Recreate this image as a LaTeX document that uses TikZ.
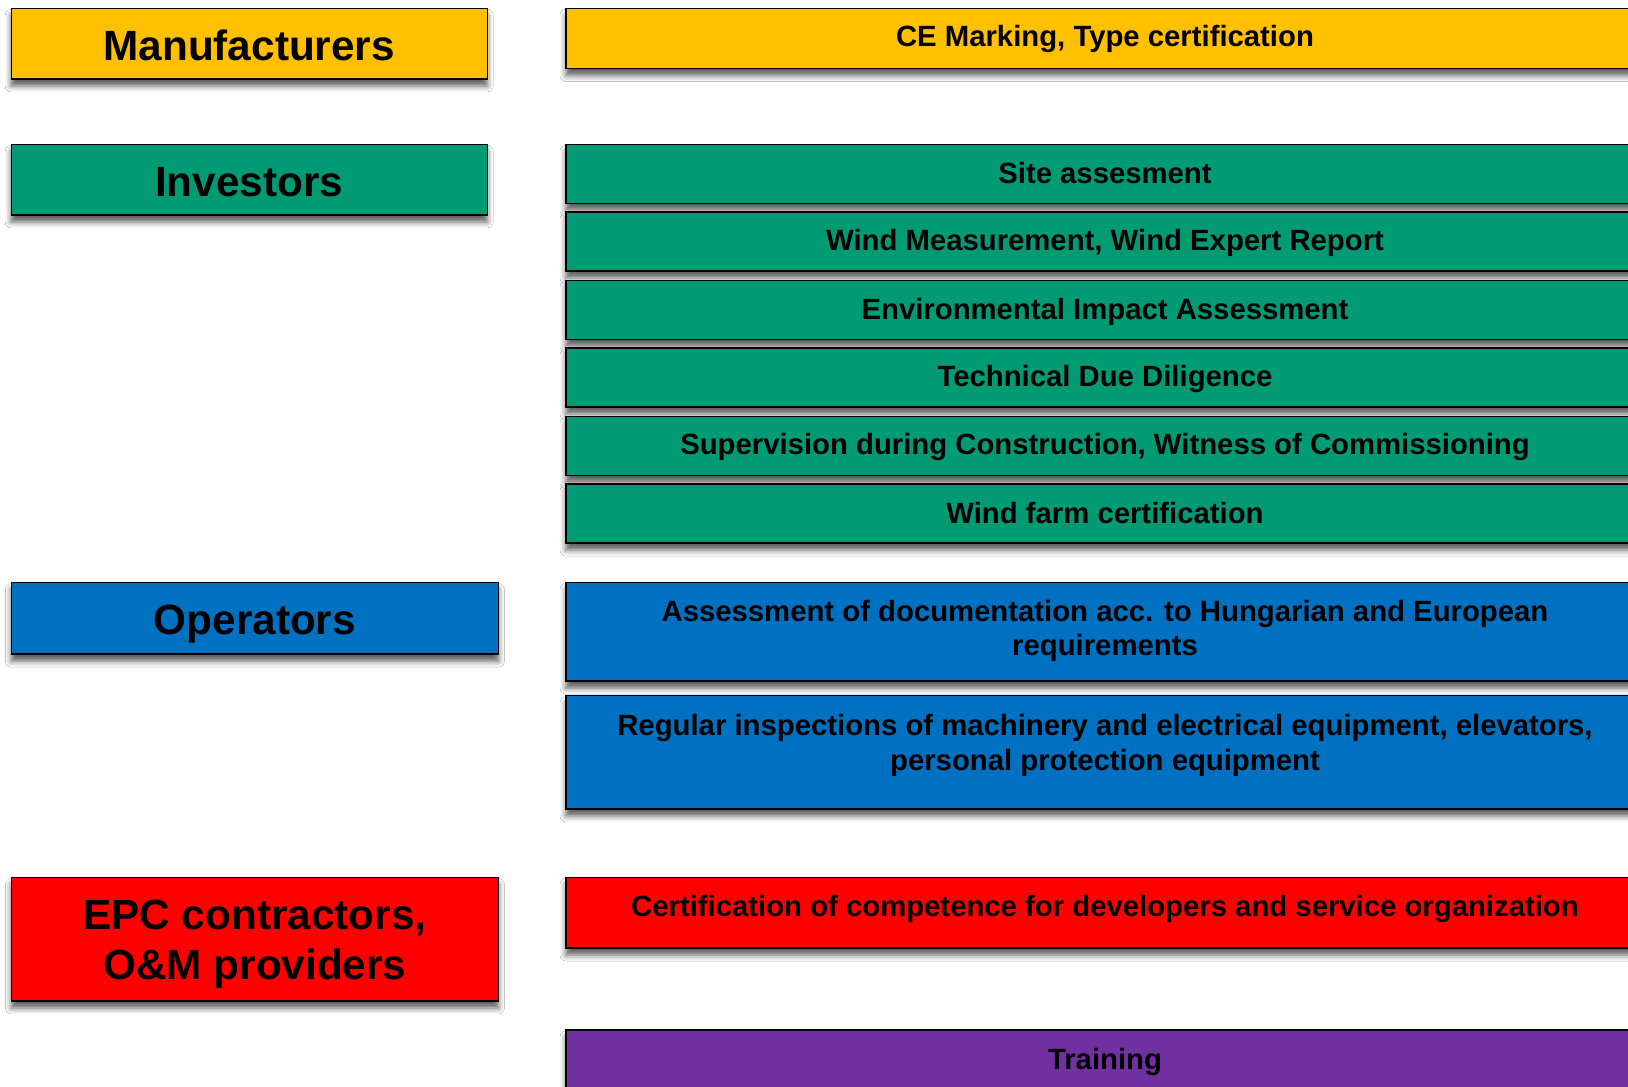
\documentclass[tikz,border=0pt]{standalone}
\usepackage{fontspec}
\setmainfont{Liberation Sans}
\usetikzlibrary{shadows.blur}
\definecolor{cyel}{HTML}{FFC000}
\definecolor{cgrn}{HTML}{009A75}
\definecolor{cblu}{HTML}{0070C0}
\definecolor{cred}{HTML}{FF0000}
\definecolor{cpur}{HTML}{7030A0}
\begin{document}
\begin{tikzpicture}[x=1pt,y=-1pt,
  box/.style={draw=black,line width=1.4pt,rectangle,inner sep=0pt,
    blur shadow={shadow xshift=0pt,shadow yshift=-7pt,shadow blur radius=6pt,shadow opacity=65}},
  leftbox/.style={box,minimum width=476pt},
  rightbox/.style={box,minimum width=1078pt},
  big/.style={font=\fontsize{42.3}{50}\selectfont\bfseries,align=center,inner sep=0pt},
  small/.style={font=\fontsize{29.3}{34.5}\selectfont\bfseries,align=center,inner sep=0pt}]
\clip (0,0) rectangle (1628,1087);
\fill[white] (0,0) rectangle (1628,1087);
% left boxes
\node[leftbox,fill=cyel,minimum height=70.6pt] (man) at (249.2,43.6) {};
\node[big] (mant) at (249.2,45) {Manufacturers};
\node[leftbox,fill=cgrn,minimum height=70.6pt] (inv) at (249.2,179.6) {};
\node[big] (invt) at (249.2,182.2) {Investors};
\node[leftbox,fill=cblu,minimum width=487pt,minimum height=71.6pt] (ope) at (254.9,618.3) {};
\node[big] (opet) at (254.9,623.9) {Operators};
\node[leftbox,fill=cred,minimum width=487pt,minimum height=123.5pt] (epc) at (254.9,939.2) {};
\node[big] (epct) at (254.9,944.2) {EPC contractors,\\O\&M providers};
% right boxes
\node[rightbox,fill=cyel,minimum height=60.2pt] (ce) at (1105,38.4) {};
\node[small] (cet) at (1105,39.3) {CE Marking, Type certification};
\node[rightbox,fill=cgrn,minimum height=59.2pt] (site) at (1105,173.9) {};
\node[small] (sitet) at (1105,173.4) {Site assesment};
\node[rightbox,fill=cgrn,minimum height=59.2pt] (wm) at (1105,241.4) {};
\node[small] (wmt) at (1105,242.9) {Wind Measurement, Wind Expert Report};
\node[rightbox,fill=cgrn,minimum height=59.2pt] (env) at (1105,309.9) {};
\node[small] (envt) at (1105,312.4) {Environmental Impact Assessment};
\node[rightbox,fill=cgrn,minimum height=59.2pt] (tdd) at (1105,377.4) {};
\node[small] (tddt) at (1105,378.9) {Technical Due Diligence};
\node[rightbox,fill=cgrn,minimum height=59.2pt] (sup) at (1105,446) {};
\node[small] (supt) at (1105,447.4) {Supervision during Construction, Witness of Commissioning};
\node[rightbox,fill=cgrn,minimum height=59.2pt] (wf) at (1105,513.4) {};
\node[small] (wft) at (1105,513.4) {Wind farm certification};
\node[rightbox,fill=cblu,minimum height=98.6pt] (ass) at (1105,631.8) {};
\node[small] (asst) at (1105,630.9) {Assessment of documentation acc. to Hungarian and European\\requirements};
\node[rightbox,fill=cblu,minimum height=113.1pt] (reg) at (1105,752.3) {};
\node[small] (regt) at (1105,745.2) {Regular inspections of machinery and electrical equipment, elevators,\\personal protection equipment};
\node[rightbox,fill=cred,minimum height=70.6pt] (cert) at (1105,912.7) {};
\node[small] (certt) at (1105,909.4) {Certification of competence for developers and service organization};
\node[rightbox,fill=cpur,minimum height=70pt] (tra) at (1105,1065) {};
\node[small] (trat) at (1105,1062.1) {Training};
\end{tikzpicture}
\end{document}
